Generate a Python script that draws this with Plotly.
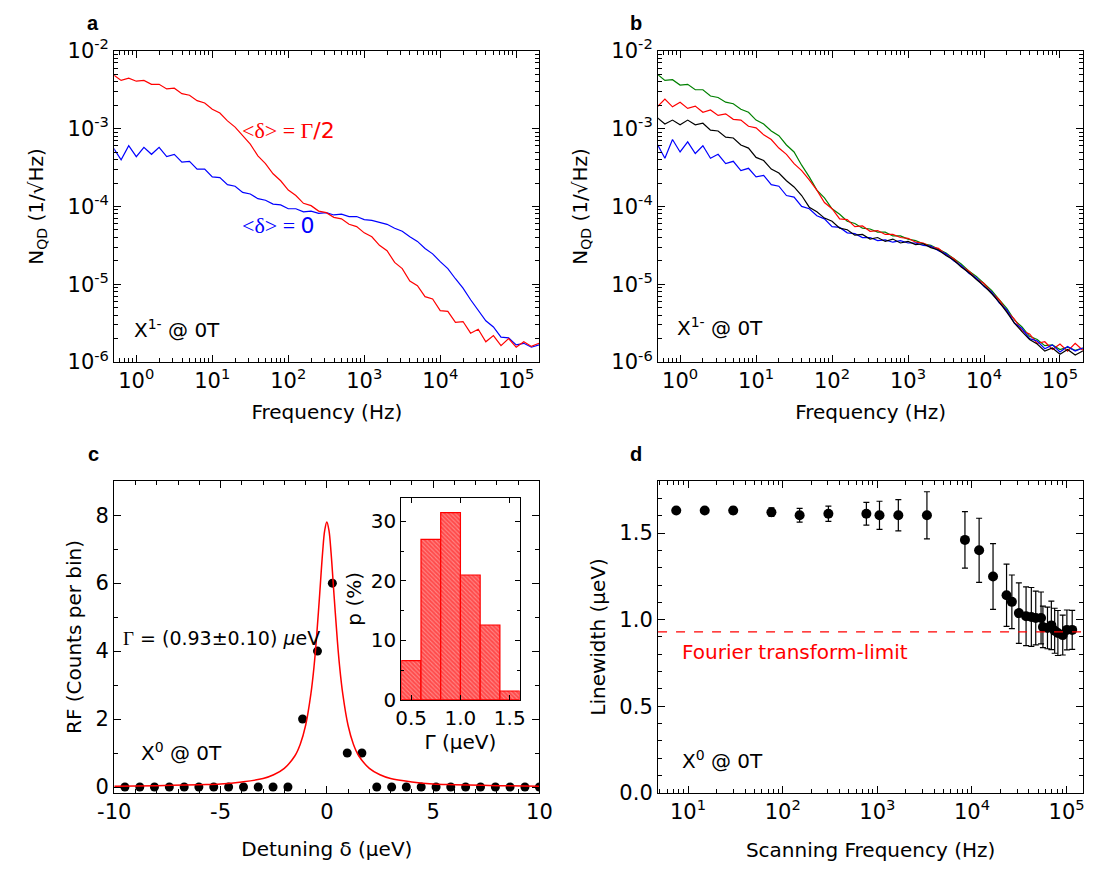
import plotly.graph_objects as go

# ---------------- data ----------------
freq_log10 = [-0.3, -0.2, -0.1, 0.0, 0.1, 0.2, 0.3, 0.4, 0.5, 0.6, 0.7, 0.8, 0.9, 1.0,
              1.1, 1.2, 1.3, 1.4, 1.5, 1.6, 1.7, 1.8, 1.9, 2.0, 2.1, 2.2, 2.3, 2.4, 2.5,
              2.6, 2.7, 2.8, 2.9, 3.0, 3.1, 3.2, 3.3, 3.4, 3.5, 3.6, 3.7, 3.8, 3.9, 4.0,
              4.1, 4.2, 4.3, 4.4, 4.5, 4.6, 4.7, 4.8, 4.9, 5.0, 5.1, 5.2, 5.3]

# panel a: log10 of N_QD
a_red_log10 = [-2.31, -2.38, -2.35, -2.39, -2.38, -2.43, -2.43, -2.49, -2.48, -2.55, -2.57, -2.64,
               -2.67, -2.75, -2.80, -2.90, -2.98, -3.09, -3.20, -3.35, -3.45, -3.58, -3.67, -3.79,
               -3.86, -3.96, -3.99, -4.06, -4.08, -4.14, -4.16, -4.23, -4.26, -4.34, -4.39, -4.50,
               -4.57, -4.72, -4.80, -4.96, -5.02, -5.16, -5.19, -5.34, -5.35, -5.49, -5.48, -5.63,
               -5.58, -5.74, -5.66, -5.79, -5.70, -5.81, -5.74, -5.80, -5.76]
a_blue_log10 = [-3.25, -3.40, -3.22, -3.36, -3.24, -3.33, -3.24, -3.36, -3.33, -3.43, -3.42, -3.52,
                -3.52, -3.62, -3.63, -3.72, -3.74, -3.82, -3.84, -3.90, -3.92, -3.97, -3.98, -4.03,
                -4.03, -4.07, -4.06, -4.09, -4.08, -4.11, -4.10, -4.13, -4.13, -4.17, -4.18, -4.21,
                -4.23, -4.28, -4.32, -4.39, -4.45, -4.54, -4.61, -4.71, -4.80, -4.93, -5.05, -5.20,
                -5.33, -5.47, -5.55, -5.68, -5.69, -5.78, -5.76, -5.81, -5.78]

# panel b: log10 of N_QD
b_green_log10 = [-2.30, -2.38, -2.37, -2.44, -2.43, -2.50, -2.50, -2.58, -2.60, -2.66, -2.68, -2.75,
                 -2.79, -2.89, -2.94, -3.03, -3.09, -3.21, -3.30, -3.47, -3.62, -3.79, -3.89, -4.03,
                 -4.10, -4.19, -4.22, -4.28, -4.29, -4.33, -4.33, -4.38, -4.38, -4.42, -4.44, -4.48,
                 -4.50, -4.55, -4.60, -4.67, -4.74, -4.83, -4.90, -4.99, -5.08, -5.20, -5.31, -5.46,
                 -5.55, -5.67, -5.71, -5.79, -5.78, -5.84, -5.81, -5.85, -5.82]
b_red_log10 = [-2.72, -2.62, -2.72, -2.66, -2.74, -2.71, -2.79, -2.76, -2.83, -2.81, -2.88, -2.89,
               -2.97, -2.99, -3.08, -3.14, -3.25, -3.33, -3.45, -3.54, -3.66, -3.79, -3.95, -4.03,
               -4.16, -4.17, -4.26, -4.25, -4.32, -4.31, -4.36, -4.36, -4.40, -4.41, -4.46, -4.47,
               -4.52, -4.54, -4.62, -4.67, -4.77, -4.83, -4.93, -4.99, -5.11, -5.20, -5.35, -5.45,
               -5.60, -5.64, -5.76, -5.74, -5.84, -5.77, -5.86, -5.76, -5.85]
b_black_log10 = [-2.86, -2.94, -2.89, -2.95, -2.89, -2.95, -2.93, -3.02, -3.03, -3.11, -3.12, -3.21,
                 -3.25, -3.37, -3.41, -3.52, -3.57, -3.67, -3.75, -3.86, -4.01, -4.07, -4.15, -4.19,
                 -4.28, -4.30, -4.37, -4.36, -4.42, -4.40, -4.45, -4.42, -4.47, -4.45, -4.49, -4.48,
                 -4.53, -4.56, -4.63, -4.69, -4.78, -4.85, -4.94, -5.02, -5.12, -5.23, -5.36, -5.50,
                 -5.61, -5.71, -5.77, -5.86, -5.82, -5.90, -5.84, -5.91, -5.86]
b_blue_log10 = [-3.20, -3.38, -3.14, -3.30, -3.17, -3.32, -3.22, -3.38, -3.33, -3.45, -3.42, -3.54,
                -3.51, -3.62, -3.60, -3.72, -3.74, -3.86, -3.88, -4.00, -4.03, -4.12, -4.16, -4.26,
                -4.27, -4.34, -4.35, -4.40, -4.40, -4.44, -4.43, -4.46, -4.44, -4.47, -4.47, -4.50,
                -4.51, -4.57, -4.61, -4.70, -4.76, -4.86, -4.92, -5.03, -5.10, -5.24, -5.33, -5.50,
                -5.57, -5.70, -5.73, -5.83, -5.78, -5.87, -5.80, -5.86, -5.82]

# panel c: RF counts vs detuning
c_detuning = [-9.50, -8.80, -8.11, -7.41, -6.71, -6.02, -5.32, -4.62, -3.92, -3.23, -2.53, -1.83,
              -1.14, -0.44, 0.26, 0.96, 1.65, 2.35, 3.05, 3.74, 4.44, 5.14, 5.83, 6.53, 7.23,
              7.93, 8.62, 9.32, 10.0]
c_counts = [0, 0, 0, 0, 0, 0, 0, 0, 0, 0, 0, 0, 2, 4, 6, 1, 1, 0, 0, 0, 0, 0, 0, 0, 0, 0, 0, 0, 0]
c_fit_x = [-10, -8, -6, -5, -4, -3, -2.5, -2, -1.5, -1.25, -1, -0.75, -0.6, -0.5, -0.35, -0.2, -0.1,
           0, 0.1, 0.2, 0.35, 0.5, 0.6, 0.75, 1, 1.25, 1.5, 2, 2.5, 3, 4, 5, 6, 8, 10]
c_fit_y = [0.02, 0.04, 0.07, 0.09, 0.15, 0.25, 0.36, 0.55, 0.92, 1.26, 1.81, 2.74, 3.56, 4.27, 5.55,
           6.89, 7.55, 7.80, 7.55, 6.89, 5.55, 4.27, 3.56, 2.74, 1.81, 1.26, 0.92, 0.55, 0.36, 0.25,
           0.15, 0.09, 0.07, 0.04, 0.02]

# inset: histogram of linewidths
hist_gamma = [0.5, 0.7, 0.9, 1.1, 1.3, 1.5]
hist_p = [6.6, 27.0, 31.5, 21.0, 12.6, 1.5]

# panel d: linewidth vs scanning frequency
d_freq = [7.5, 15, 30, 76, 151, 304, 766, 1054, 1667, 3343, 8430, 11900, 16700, 23200, 26400,
          31300, 37300, 42400, 47200, 53700, 56200, 62800, 69000, 74800, 80900, 91000, 100700, 114600]
d_width = [1.631, 1.631, 1.631, 1.621, 1.603, 1.612, 1.612, 1.603, 1.603, 1.603, 1.461, 1.401,
           1.249, 1.141, 1.103, 1.038, 1.020, 1.016, 1.010, 1.010, 0.958, 0.952, 0.967, 0.936,
           0.923, 0.911, 0.941, 0.941]
d_err = [0.012, 0.012, 0.02, 0.025, 0.04, 0.044, 0.066, 0.081, 0.09, 0.136, 0.163, 0.185, 0.19,
         0.18, 0.155, 0.175, 0.17, 0.17, 0.155, 0.15, 0.12, 0.12, 0.14, 0.13, 0.13, 0.115, 0.115,
         0.113]
fourier_limit = 0.93

# ---------------- figure ----------------
W, H = 1102, 877
FONT = "DejaVu Sans, Liberation Sans, sans-serif"
SERIF = "Liberation Serif, DejaVu Serif, serif"
TFS = 21   # tick labels
AFS = 20   # axis titles

freq = [10 ** v for v in freq_log10]


def dom_x(x0, x1):
    return [x0 / W, x1 / W]


def dom_y(y0, y1):
    return [1 - y1 / H, 1 - y0 / H]


def base_axis(**kw):
    d = dict(showline=True, linecolor="black", linewidth=1.2, mirror="allticks",
             ticks="inside", ticklen=7, tickwidth=1.2, tickcolor="black",
             showgrid=False, zeroline=False,
             tickfont=dict(family=FONT, size=TFS, color="black"),
             title_font=dict(family=FONT, size=AFS, color="black"))
    d.update(kw)
    return d


def minor_ticks(**kw):
    d = dict(ticks="inside", ticklen=4, tickcolor="black", tickwidth=1, showgrid=False)
    d.update(kw)
    return d


def log_minor(lo, hi):
    return [m * 10 ** e for e in range(lo, hi + 1) for m in range(2, 10)]


def sup_text(exps):
    return ["10<sup>%d</sup>" % e for e in exps]


fig = go.Figure()

# panel a
fig.add_trace(go.Scatter(x=freq, y=[10 ** v for v in a_blue_log10], mode="lines",
                         line=dict(color="#0000ff", width=1.2), xaxis="x", yaxis="y"))
fig.add_trace(go.Scatter(x=freq, y=[10 ** v for v in a_red_log10], mode="lines",
                         line=dict(color="#ff0000", width=1.2), xaxis="x", yaxis="y"))

# panel b
for vals, col in [(b_green_log10, "#008000"), (b_red_log10, "#ff0000"),
                  (b_blue_log10, "#0000ff"), (b_black_log10, "#000000")]:
    fig.add_trace(go.Scatter(x=freq, y=[10 ** v for v in vals], mode="lines",
                             line=dict(color=col, width=1.2), xaxis="x2", yaxis="y2"))

# panel c
fig.add_trace(go.Scatter(x=c_detuning, y=c_counts, mode="markers",
                         marker=dict(color="black", size=9), xaxis="x3", yaxis="y3"))
fig.add_trace(go.Scatter(x=c_fit_x, y=c_fit_y, mode="lines", line_shape="spline",
                         line=dict(color="#ff0000", width=1.5), xaxis="x3", yaxis="y3"))

# inset
fig.add_trace(go.Bar(x=hist_gamma, y=hist_p, width=0.2,
                     marker=dict(color="#ff4a4a", line=dict(color="#ff0000", width=1.2),
                                 pattern=dict(shape="\\", fgcolor="#ffc8c8", bgcolor="#ff4a4a",
                                              size=3, solidity=0.35)),
                     xaxis="x5", yaxis="y5"))

# panel d
fig.add_trace(go.Scatter(x=d_freq, y=d_width, mode="markers",
                         marker=dict(color="black", size=10),
                         error_y=dict(type="data", array=d_err, color="black", thickness=1.2, width=3),
                         xaxis="x4", yaxis="y4"))

A_X = dom_x(100, 537)
B_X = dom_x(659, 1096)
TOP_Y = dom_y(37, 358)
BOT_Y = dom_y(481, 802.5)

fig.update_layout(
    width=W, height=H, autosize=False,
    margin=dict(l=0, r=0, t=0, b=0),
    paper_bgcolor="white", plot_bgcolor="white",
    showlegend=False,
    xaxis=base_axis(domain=A_X, anchor="y", type="log", range=[-0.29, 5.305],
                    tickvals=[10 ** e for e in range(0, 6)], ticktext=sup_text(range(0, 6)),
                    minor=minor_ticks(tickvals=log_minor(-1, 5)),
                    title=dict(text="Frequency (Hz)", standoff=12)),
    yaxis=base_axis(domain=TOP_Y, anchor="x", type="log", range=[-6, -2],
                    tickvals=[10 ** e for e in range(-6, -1)], ticktext=sup_text(range(-6, -1)),
                    minor=minor_ticks(tickvals=log_minor(-6, -3)),
                    title=dict(text="N<sub>QD</sub> (1/\u221aHz)", standoff=18)),
    xaxis2=base_axis(domain=B_X, anchor="y2", type="log", range=[-0.29, 5.305],
                     tickvals=[10 ** e for e in range(0, 6)], ticktext=sup_text(range(0, 6)),
                     minor=minor_ticks(tickvals=log_minor(-1, 5)),
                     title=dict(text="Frequency (Hz)", standoff=12)),
    yaxis2=base_axis(domain=TOP_Y, anchor="x2", type="log", range=[-6, -2],
                     tickvals=[10 ** e for e in range(-6, -1)], ticktext=sup_text(range(-6, -1)),
                     minor=minor_ticks(tickvals=log_minor(-6, -3)),
                     title=dict(text="N<sub>QD</sub> (1/\u221aHz)", standoff=18)),
    xaxis3=base_axis(domain=A_X, anchor="y3", range=[-10, 10], tickvals=[-10, -5, 0, 5, 10],
                     ticktext=["-10", "-5", "0", "5", "10"],
                     minor=minor_ticks(dtick=1),
                     title=dict(text="Detuning \u03b4 (\u03bceV)", standoff=18)),
    yaxis3=base_axis(domain=BOT_Y, anchor="x3", range=[-0.17, 9.0], tickvals=[0, 2, 4, 6, 8],
                     minor=minor_ticks(dtick=1),
                     title=dict(text="RF (Counts per bin)", standoff=8)),
    xaxis4=base_axis(domain=B_X, anchor="y4", type="log", range=[0.683, 5.175],
                     tickvals=[10 ** e for e in range(1, 6)], ticktext=sup_text(range(1, 6)),
                     minor=minor_ticks(tickvals=log_minor(0, 5)),
                     title=dict(text="Scanning Frequency (Hz)", standoff=19)),
    yaxis4=base_axis(domain=BOT_Y, anchor="x4", range=[0, 1.8], tickvals=[0, 0.5, 1.0, 1.5],
                     tickformat=".1f",
                     minor=minor_ticks(dtick=0.1),
                     title=dict(text="Linewidth (\u03bceV)", standoff=8)),
    xaxis5=base_axis(domain=dom_x(395, 516.7), anchor="y5", range=[0.4, 1.6],
                     tickvals=[0.5, 1.0, 1.5], tickformat=".1f", ticklen=5,
                     tickfont=dict(family=FONT, size=20, color="black"),
                     title=dict(text="\u0393 (\u03bceV)", standoff=3)),
    yaxis5=base_axis(domain=dom_y(498, 706.7), anchor="x5", range=[0, 34],
                     tickvals=[0, 10, 20, 30], ticklen=5,
                     tickfont=dict(family=FONT, size=20, color="black"),
                     minor=minor_ticks(ticklen=3, dtick=5),
                     title=dict(text="p (%)", standoff=3)),
)

# Fourier limit dashed line
fig.add_shape(type="line", xref="x4 domain", x0=0, x1=1, yref="y4", y0=fourier_limit,
              y1=fourier_limit, line=dict(color="#ff0000", width=1.3, dash="dash"))

txt = dict(family=FONT, size=20, color="black")
ann = []
for letter, px, py in [("a", 78, 8), ("b", 636, 8), ("c", 79, 453), ("d", 636, 453)]:
    ann.append(dict(text="<b>%s</b>" % letter, xref="paper", yref="paper", x=px / W, y=1 - py / H,
                    showarrow=False, font=dict(family="Liberation Sans, Arial", size=20, color="black"),
                    xanchor="center", yanchor="middle"))

ann += [
    dict(text="<span style='font-family:%s'>&lt;\u03b4&gt; = \u0393</span>/2" % SERIF,
         xref="x", yref="y", x=2.0, y=-3.02, showarrow=False,
         font=dict(family=FONT, size=22, color="#ff0000"), xanchor="center", yanchor="middle"),
    dict(text="<span style='font-family:%s'>&lt;\u03b4&gt; = </span>0" % SERIF,
         xref="x", yref="y", x=1.87, y=-4.24, showarrow=False,
         font=dict(family=FONT, size=22, color="#0000ff"), xanchor="center", yanchor="middle"),
    dict(text="X<sup>1-</sup> @ 0T", xref="x", yref="y", x=-0.06, y=-5.57, showarrow=False,
         font=txt, xanchor="left", yanchor="middle"),
    dict(text="X<sup>1-</sup> @ 0T", xref="x2", yref="y2", x=-0.07, y=-5.55, showarrow=False,
         font=txt, xanchor="left", yanchor="middle"),
    dict(text="<span style='font-family:%s'>\u0393</span> = (0.93\u00b10.10) <i>\u03bc</i>eV" % SERIF,
         xref="x3", yref="y3", x=-9.7, y=4.4, showarrow=False,
         font=dict(family=FONT, size=19, color="black"), xanchor="left", yanchor="middle"),
    dict(text="X<sup>0</sup> @ 0T", xref="x3", yref="y3", x=-8.85, y=1.03, showarrow=False,
         font=txt, xanchor="left", yanchor="middle"),
    dict(text="Fourier transform-limit", xref="x4", yref="y4", x=0.92, y=0.813, showarrow=False,
         font=dict(family=FONT, size=20, color="#ff0000"), xanchor="left", yanchor="middle"),
    dict(text="X<sup>0</sup> @ 0T", xref="x4", yref="y4", x=0.92, y=0.187, showarrow=False,
         font=txt, xanchor="left", yanchor="middle"),
]
fig.update_layout(annotations=ann)

fig.write_html("out.html", config={"displayModeBar": False},
               post_script="document.body.style.margin='0px';")
